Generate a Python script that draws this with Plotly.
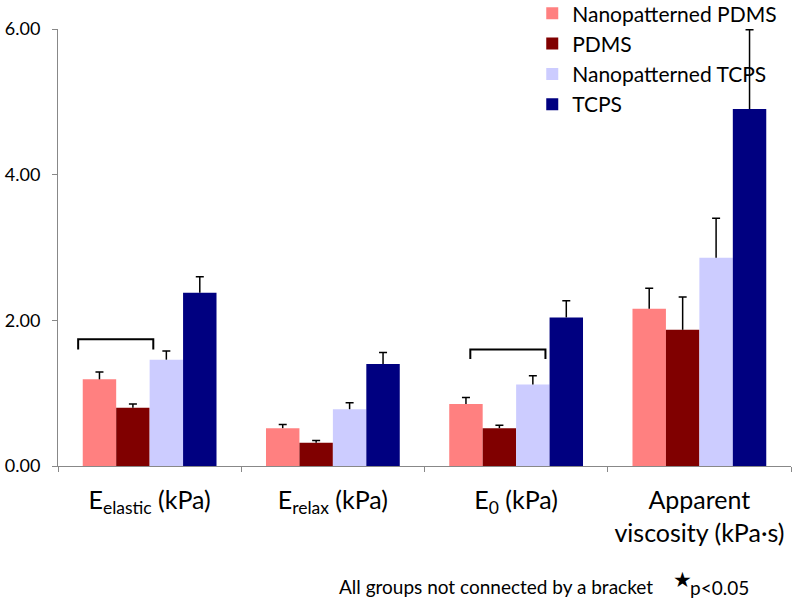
import plotly.graph_objects as go

# categories along the x axis
categories = [
    "E<sub>elastic</sub> (kPa)",
    "E<sub>relax</sub> (kPa)",
    "E<sub>0</sub> (kPa)",
    "Apparent<br>viscosity (kPa·s)",
]

# mean values per surface
nano_pdms = [1.19, 0.52, 0.85, 2.16]
pdms = [0.80, 0.32, 0.52, 1.87]
nano_tcps = [1.46, 0.78, 1.12, 2.86]
tcps = [2.38, 1.40, 2.04, 4.90]

# upper error (SD)
nano_pdms_err = [0.10, 0.05, 0.09, 0.28]
pdms_err = [0.05, 0.03, 0.04, 0.45]
nano_tcps_err = [0.12, 0.09, 0.12, 0.54]
tcps_err = [0.22, 0.16, 0.23, 1.09]

series = [
    ("Nanopatterned PDMS", nano_pdms, nano_pdms_err, "#FF8080"),
    ("PDMS", pdms, pdms_err, "#800000"),
    ("Nanopatterned TCPS", nano_tcps, nano_tcps_err, "#CCCCFF"),
    ("TCPS", tcps, tcps_err, "#000080"),
]

font = "Lato, 'Noto Sans', sans-serif"

fig = go.Figure()
for i, (name, vals, errs, col) in enumerate(series):
    # bar plus error stem (upper only, no caps)
    fig.add_trace(go.Bar(
        x=categories, y=vals, name=name, offsetgroup=str(i),
        marker=dict(color=col, line=dict(width=0)),
        error_y=dict(type="data", array=errs, arrayminus=[0] * len(errs), symmetric=False,
                     color="black", thickness=1.5, width=0),
    ))
    # invisible bar reaching the top of the error bar, only to draw the cap
    fig.add_trace(go.Bar(
        x=categories, y=[v + e for v, e in zip(vals, errs)], offsetgroup=str(i),
        marker=dict(color="rgba(0,0,0,0)", line=dict(width=0)), showlegend=False,
        hoverinfo="skip",
        error_y=dict(type="data", array=[0] * len(errs), color="black", thickness=1.5, width=4),
    ))

# brackets (category index from, to, y low, y high)
brackets = [(-0.39, 0.02, 1.60, 1.74), (1.75, 2.16, 1.47, 1.60)]
for x0, x1, ylo, yhi in brackets:
    fig.add_shape(type="path", xref="x", yref="y",
                  path=f"M {x0} {ylo} L {x0} {yhi} L {x1} {yhi} L {x1} {ylo}",
                  line=dict(color="black", width=2))

fig.add_annotation(text="All groups not connected by a bracket", xref="paper", yref="paper",
                   x=0.3806, y=-0.275, xanchor="left", yanchor="middle", showarrow=False,
                   font=dict(size=19, color="black", family=font))
fig.add_annotation(text="★", xref="paper", yref="paper",
                   x=0.852, y=-0.262, xanchor="center", yanchor="middle", showarrow=False,
                   font=dict(size=21, color="black", family="DejaVu Sans"))
fig.add_annotation(text="p<0.05", xref="paper", yref="paper",
                   x=0.8595, y=-0.277, xanchor="left", yanchor="middle", showarrow=False,
                   font=dict(size=19, color="black", family=font))

fig.update_layout(
    width=800, height=601,
    margin=dict(l=58, r=9, t=29, b=135, autoexpand=False),
    paper_bgcolor="white", plot_bgcolor="white",
    barmode="group", bargap=0.27, bargroupgap=0,
    font=dict(family=font, color="black"),
    showlegend=True,
    legend=dict(x=0.647, y=1.082, xanchor="left", yanchor="top",
                bgcolor="rgba(0,0,0,0)", font=dict(size=21), itemwidth=30),
    xaxis=dict(showline=True, linecolor="#888888", linewidth=1, ticks="outside",
               tickson="boundaries", ticklen=5, tickcolor="#888888",
               tickfont=dict(size=25), ticklabelstandoff=12, showgrid=False),
    yaxis=dict(range=[0, 6], tickvals=[0, 2, 4, 6], tickformat=".2f",
               showline=True, linecolor="#888888", linewidth=1, ticks="outside",
               ticklen=5, tickcolor="#888888", tickfont=dict(size=18),
               ticklabelstandoff=8, showgrid=False, zeroline=False),
)

# drop the browser's default body margin so the figure sits at the window corner
fig.write_html("out.html", config={"displayModeBar": False},
               post_script="document.body.style.margin='0';")
